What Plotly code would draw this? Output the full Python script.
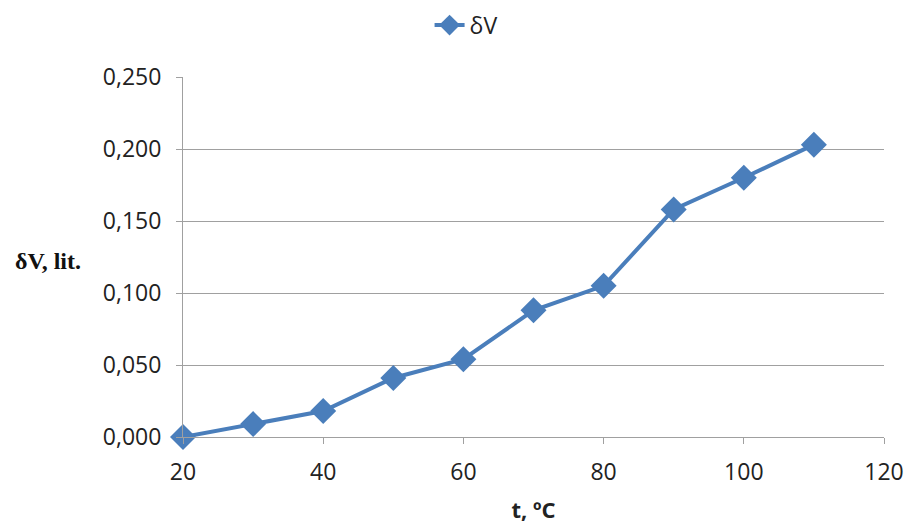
import plotly.graph_objects as go

t_values = [20, 30, 40, 50, 60, 70, 80, 90, 100, 110]
dv_values = [0.000, 0.009, 0.018, 0.041, 0.054, 0.088, 0.105, 0.158, 0.180, 0.203]
series_name = "δV"
x_title = "t, ºC"
y_title = "δV, lit."

blue = "#4A7EBB"
sans = "Open Sans, Liberation Sans, sans-serif"
tick_font = dict(family=sans, size=23, color="#222")

fig = go.Figure()
fig.add_trace(go.Scatter(
    x=t_values, y=dv_values, name=series_name, mode="lines+markers",
    line=dict(color=blue, width=4),
    marker=dict(symbol="diamond", size=20, color=blue),
    cliponaxis=False,
))

fig.update_layout(
    width=905, height=524,
    margin=dict(l=183, r=21, t=77, b=87),
    plot_bgcolor="white", paper_bgcolor="white",
    separators=", ",
    showlegend=True,
    legend=dict(orientation="h", xref="container", x=0.515, xanchor="center",
                yref="container", y=0.952, yanchor="middle",
                font=dict(family=sans, size=23, color="#222")),
    xaxis=dict(range=[20, 120], tickvals=[20, 40, 60, 80, 100, 120],
               showgrid=False, showline=True, linecolor="#A0A0A0", linewidth=1,
               ticks="outside", ticklen=6, tickcolor="#A0A0A0",
               tickfont=tick_font, zeroline=False, automargin=False,
               ticklabelstandoff=8,
               title=dict(text="<b>" + x_title + "</b>", font=dict(family=sans, size=22, color="#222"), standoff=27)),
    yaxis=dict(range=[0, 0.25], tickvals=[0, 0.05, 0.10, 0.15, 0.20, 0.25], tickformat=".3f",
               showgrid=True, gridcolor="#A0A0A0", gridwidth=1,
               showline=True, linecolor="#A0A0A0", linewidth=1,
               ticks="outside", ticklen=6, tickcolor="#A0A0A0",
               tickfont=tick_font, zeroline=False, automargin=False,
               ticklabelstandoff=10),
    annotations=[dict(text="<b>" + y_title + "</b>", xref="paper", yref="paper",
                      x=-0.243, y=0.488, xanchor="left", yanchor="middle", showarrow=False,
                      font=dict(family="Liberation Serif, Times New Roman, serif", size=24, color="#111"))],
)

fig.write_html("out.html")
